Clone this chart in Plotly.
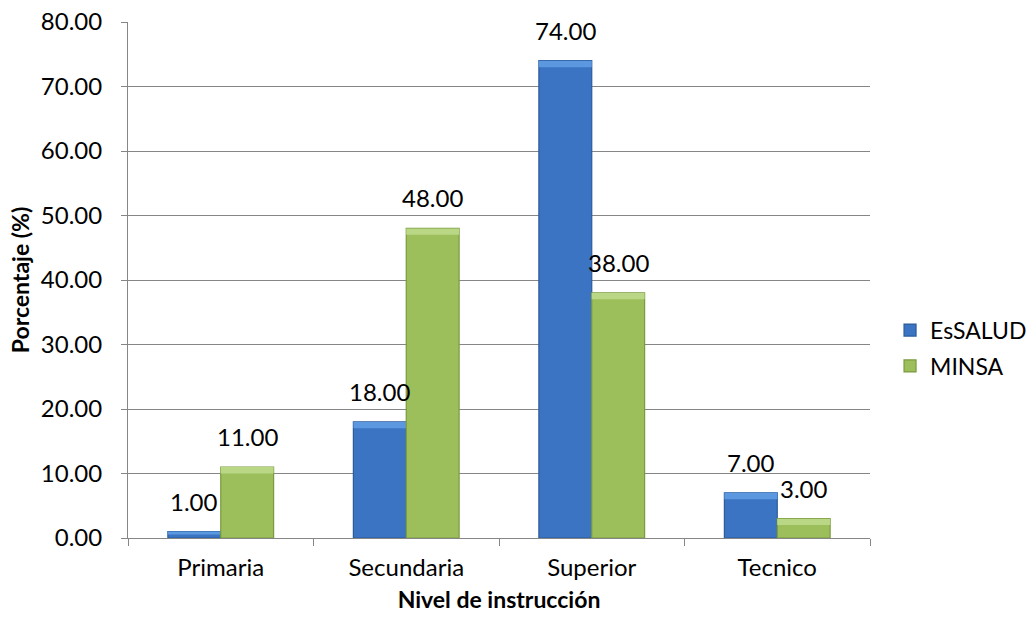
import plotly.graph_objects as go

niveles = ["Primaria", "Secundaria", "Superior", "Tecnico"]
essalud = [1.00, 18.00, 74.00, 7.00]
minsa = [11.00, 48.00, 38.00, 3.00]
y_ticks = [0, 10, 20, 30, 40, 50, 60, 70, 80]

FONT = "Lato, 'Open Sans', sans-serif"
LABEL_SIZE = 24
BEVEL = 1.0  # height of the lighter top band, in axis units

series = [
    # name, values, face, edge, top band, label x-shift
    ("EsSALUD", essalud, "#3A74C2", "#2B5B9B", "#5C98E0", -26.5),
    ("MINSA", minsa, "#9CBF5B", "#7A9A3E", "#B9D785", 26.5),
]

fig = go.Figure()
for name, vals, face, edge, top, _ in series:
    fig.add_trace(go.Bar(
        name=name, x=niveles, y=vals, legendgroup=name, offsetgroup=name,
        marker=dict(color=face, line=dict(color=edge, width=1.2)),
        cliponaxis=False,
    ))
    # lighter band across the top of each bar
    band = [min(v * 0.45, BEVEL) for v in vals]
    fig.add_trace(go.Bar(
        name=name, x=niveles, y=band, base=[v - b for v, b in zip(vals, band)],
        legendgroup=name, offsetgroup=name, showlegend=False, hoverinfo="skip",
        marker=dict(color=top, line=dict(width=0)),
    ))

# value labels above each bar
for name, vals, face, edge, top, shift in series:
    for cat, v in zip(niveles, vals):
        fig.add_annotation(
            x=cat, y=v, xref="x", yref="y", text=f"{v:.2f}",
            showarrow=False, xanchor="center", yanchor="bottom",
            xshift=shift, yshift=14,
            font=dict(size=LABEL_SIZE, color="#000000", family=FONT),
        )

fig.update_layout(
    width=1035, height=623,
    margin=dict(l=128, r=165, t=22, b=85, autoexpand=False),
    paper_bgcolor="white", plot_bgcolor="white",
    barmode="group", bargap=0.43, bargroupgap=0,
    font=dict(family=FONT, size=LABEL_SIZE, color="#000000"),
    showlegend=True,
    legend=dict(
        x=1.027, y=0.368, xanchor="left", yanchor="middle",
        font=dict(size=23, color="#000000", family=FONT),
        itemwidth=30, tracegroupgap=3,
    ),
)
fig.update_xaxes(
    automargin=False,
    showline=True, linecolor="#868686", linewidth=1,
    ticks="outside", tickson="boundaries", ticklen=7, tickcolor="#868686",
    ticklabelstandoff=8,
    tickfont=dict(size=LABEL_SIZE, family=FONT),
    title=dict(text="<b>Nivel de instrucción</b>", font=dict(size=23, family=FONT), standoff=12),
)
fig.update_yaxes(
    automargin=False,
    range=[0, 80], tickvals=y_ticks, tickformat=".2f",
    showline=True, linecolor="#868686", linewidth=1,
    ticks="outside", ticklen=6, tickcolor="#868686",
    ticklabelstandoff=14,
    showgrid=True, gridcolor="#868686", gridwidth=1,
    zeroline=False,
    tickfont=dict(size=LABEL_SIZE, family=FONT),
    title=dict(text="<b>Porcentaje (%)</b>", font=dict(size=23, family=FONT), standoff=4),
)

fig.write_html("out.html")
